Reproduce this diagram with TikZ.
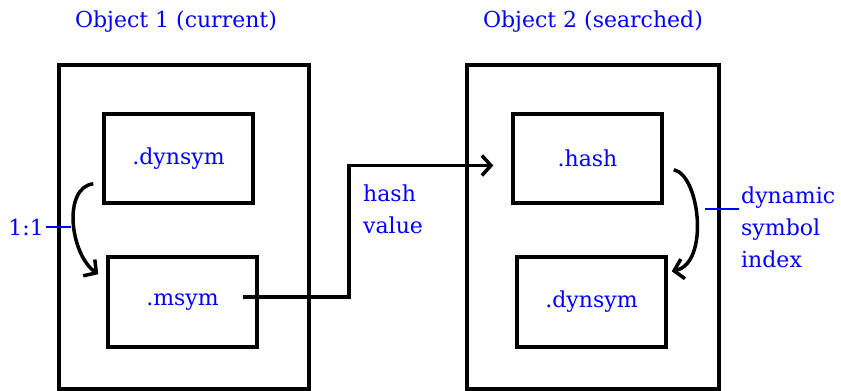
\documentclass[tikz,border=0pt]{standalone}
\usepackage{fontspec}
\setmainfont{DejaVu Serif}
\usetikzlibrary{arrows.meta, positioning}

\begin{document}
\begin{tikzpicture}[
x=1pt, y=1pt,
>={Straight Barb[length=9pt,width=20pt]},
every node/.style={font=\fontsize{22}{32}\selectfont, text=blue},
objbox/.style={
rectangle,
draw,
line width=3.5pt,
minimum width=250pt,
minimum height=324pt
},
secbox/.style={
rectangle,
draw,
line width=3.5pt,
minimum width=149pt,
minimum height=89pt
},
note/.style={align=left, inner sep=0pt},
leader/.style={draw=blue, line width=1.5pt},
line/.style={draw, line width=3.5pt, ->}
]

\useasboundingbox (0,0) rectangle (841,391);

% Nodes
\node[objbox] (obj1) at (184,164) {};
\node[objbox, minimum width=252pt] (obj2) at (593,164) {};

\node (title1) at (176,369) {Object 1 (current)};
\node (title2) at (593,369) {Object 2 (searched)};

\node[secbox] (dynsym1) at (178.5,232.5) {.dynsym};
\node[secbox, minimum height=90pt] (msym) at (182.5,89) {.msym};

\node[secbox] (hash) at (587.5,232.5) {.hash};
\node[secbox, minimum height=90pt] (dynsym2) at (591.5,89) {.dynsym};

\node[note, anchor=north west] (hashval) at (363,206) {hash\\value};
\node[note, anchor=east] (ratio) at (44,164) {1:1};
\node[note, anchor=north west] (index) at (741,204) {dynamic\\symbol\\index};

% Connections
\draw[line] ([xshift=-16pt,yshift=5pt]msym.east) -- ++(106,0)
  |- ([xshift=-18pt,yshift=-7pt]hash.west);

% 1:1 mapping
\draw[line] ([xshift=-9pt,yshift=21pt]dynsym1.south west)
  .. controls +(-31,-4) and +(-28,20) .. ([xshift=-8pt,yshift=-19pt]msym.north west);
\draw[leader] ([xshift=2pt]ratio.east) -- ++(25,0);

% symbol index
\draw[line] ([xshift=10pt,yshift=35pt]hash.south east)
  .. controls +(26,-5) and +(38,8) .. ([xshift=4pt,yshift=-16pt]dynsym2.north east);
\draw[leader] ([xshift=-2pt,yshift=-22pt]index.north west) -- ++(-34,0);

\end{tikzpicture}
\end{document}
